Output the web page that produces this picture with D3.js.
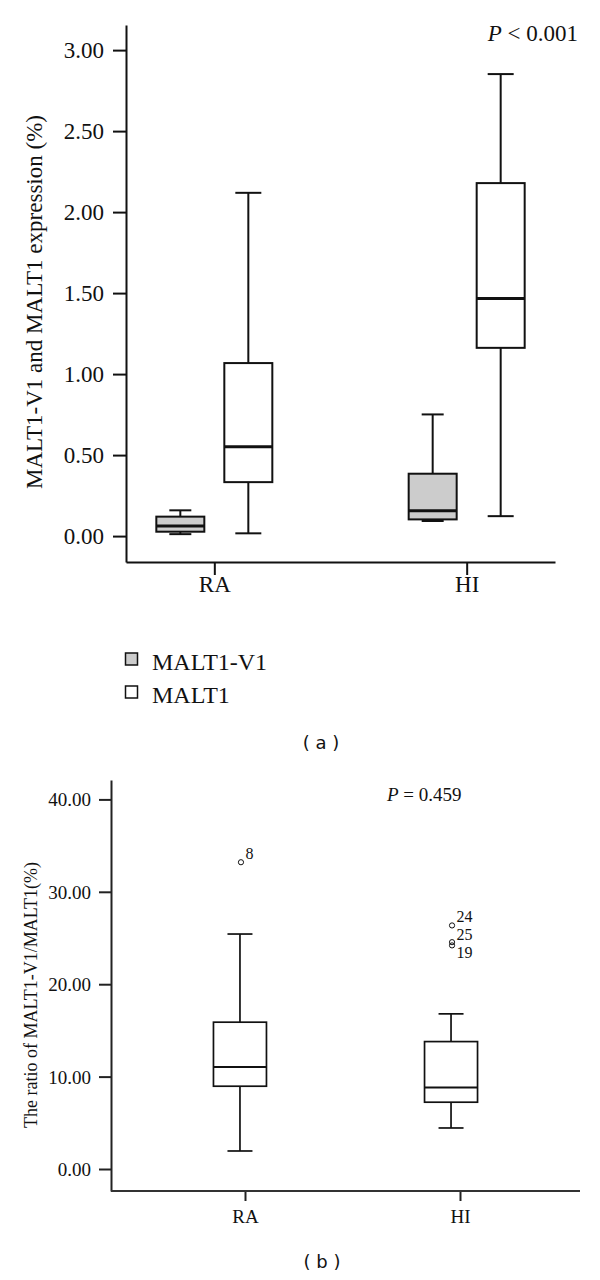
<!DOCTYPE html>
<html>
<head>
<meta charset="utf-8">
<script src="https://cdn.jsdelivr.net/npm/d3@7"></script>
<style>
  html, body { margin: 0; padding: 0; background: #fff; }
  svg { display: block; }
</style>
</head>
<body>
<script>
// ---------- data ----------
const categories = ["RA", "HI"];
const seriesNames = ["MALT1-V1", "MALT1"];
// [lower whisker, Q1, median, Q3, upper whisker]
const malt1v1Stats = [[0.012, 0.027, 0.062, 0.12, 0.159], [0.093, 0.103, 0.156, 0.385, 0.751]];
const malt1Stats   = [[0.017, 0.333, 0.551, 1.068, 2.119], [0.123, 1.162, 1.467, 2.179, 2.852]];
const ticksA = [0, 0.5, 1, 1.5, 2, 2.5, 3];
const ratioStats = [[1.95, 8.96, 11.05, 15.89, 25.43], [4.44, 7.23, 8.81, 13.79, 16.79]];
const ratioOutlierCats   = ["RA", "HI", "HI", "HI"];
const ratioOutlierValues = [33.2, 26.36, 24.55, 24.2];
const ratioOutlierLabels = ["8", "24", "25", "19"];
const ticksB = [0, 10, 20, 30, 40];
const pTextA = "< 0.001";
const pTextB = "= 0.459";

// ---------- svg ----------
const svg = d3.select("body").append("svg").attr("width", 600).attr("height", 1280);
const SERIF = '"Liberation Serif", "DejaVu Serif", serif';
const SANS = '"DejaVu Sans", "Liberation Sans", sans-serif';

// =============== Panel (a) ===============
const yA = d3.scaleLinear().domain([-0.16, 3.155]).range([562, 25]);
const xA = d3.scalePoint().domain(categories).range([126, 555]).padding(0.35);
const offA = { "MALT1-V1": -34, "MALT1": 34 };
const fillA = { "MALT1-V1": "#cccccc", "MALT1": "#ffffff" };
const boxWA = 48;
const capWA = { "MALT1-V1": 22, "MALT1": 26 };

const gA = svg.append("g");
const axA = gA.append("g").attr("transform", "translate(126,0)")
  .call(d3.axisLeft(yA).tickValues(ticksA).tickFormat(d3.format(".2f")).tickSize(13).tickSizeOuter(0).tickPadding(9));
axA.select(".domain").attr("stroke", "#111").attr("stroke-width", 2);
axA.selectAll(".tick line").attr("stroke", "#111").attr("stroke-width", 2);
axA.selectAll(".tick text").attr("font-family", SERIF).attr("font-size", 23).attr("fill", "#111").attr("dy", "0.34em");

const axAx = gA.append("g").attr("transform", "translate(0,562)")
  .call(d3.axisBottom(xA).tickSize(13).tickSizeOuter(0));
axAx.select(".domain").attr("stroke", "#111").attr("stroke-width", 2);
axAx.selectAll(".tick line").attr("stroke", "#111").attr("stroke-width", 2);
axAx.selectAll(".tick text").attr("font-family", SERIF).attr("font-size", 23).attr("fill", "#111").attr("y", 30).attr("dy", 0);

const boxesA = [];
categories.forEach((c, i) => {
  boxesA.push({ cat: c, series: "MALT1-V1", s: malt1v1Stats[i] });
  boxesA.push({ cat: c, series: "MALT1", s: malt1Stats[i] });
});
function drawBox(g, cx, s, yS, boxW, capW, fill, sw, medW) {
  const b = g.append("g").attr("stroke", "#111").attr("fill", "none");
  b.append("line").attr("x1", cx).attr("x2", cx).attr("y1", yS(s[4])).attr("y2", yS(s[3])).attr("stroke-width", sw);
  b.append("line").attr("x1", cx).attr("x2", cx).attr("y1", yS(s[1])).attr("y2", yS(s[0])).attr("stroke-width", sw);
  b.append("line").attr("x1", cx - capW / 2).attr("x2", cx + capW / 2).attr("y1", yS(s[4])).attr("y2", yS(s[4])).attr("stroke-width", sw);
  b.append("line").attr("x1", cx - capW / 2).attr("x2", cx + capW / 2).attr("y1", yS(s[0])).attr("y2", yS(s[0])).attr("stroke-width", sw);
  b.append("rect").attr("x", cx - boxW / 2).attr("width", boxW)
    .attr("y", yS(s[3])).attr("height", yS(s[1]) - yS(s[3]))
    .attr("fill", fill).attr("stroke-width", sw);
  b.append("line").attr("x1", cx - boxW / 2).attr("x2", cx + boxW / 2).attr("y1", yS(s[2])).attr("y2", yS(s[2])).attr("stroke-width", medW);
}
boxesA.forEach(d => {
  drawBox(gA, xA(d.cat) + offA[d.series], d.s, yA, boxWA, capWA[d.series], fillA[d.series], 2, 3);
});

gA.append("text").attr("transform", "translate(42,302) rotate(-90)")
  .attr("text-anchor", "middle").attr("font-family", SERIF).attr("font-size", 23).attr("fill", "#111")
  .text("MALT1-V1 and MALT1 expression (%)");
const pA = gA.append("text").attr("x", 578).attr("y", 41).attr("text-anchor", "end")
  .attr("font-family", SERIF).attr("font-size", 23).attr("fill", "#111");
pA.append("tspan").attr("font-style", "italic").text("P");
pA.append("tspan").text(" " + pTextA);

const leg = gA.append("g");
seriesNames.forEach((n, i) => {
  const y0 = 653 + i * 33;
  leg.append("rect").attr("x", 125.5).attr("y", y0).attr("width", 12).attr("height", 12)
    .attr("fill", fillA[n]).attr("stroke", "#111").attr("stroke-width", 1.5);
  leg.append("text").attr("x", 152).attr("y", y0 + 17).attr("font-family", SERIF).attr("font-size", 24).attr("fill", "#111").text(n);
});
svg.append("text").attr("x", 321).attr("y", 749).attr("text-anchor", "middle")
  .attr("font-family", SANS).attr("font-size", 18).attr("fill", "#111")
  .attr("xml:space", "preserve").text("( a )");

// =============== Panel (b) ===============
const yB = d3.scaleLinear().domain([-2.38, 42.1]).range([1191, 780]);
const xB = d3.scalePoint().domain(categories).range([111, 580]).padding(0.611);
const xBt = d3.scalePoint().domain(categories).range([118, 587]).padding(0.5907);
const gB = svg.append("g");

const axB = gB.append("g").attr("transform", "translate(111,0)")
  .call(d3.axisLeft(yB).tickValues(ticksB).tickFormat(d3.format(".2f")).tickSize(12).tickSizeOuter(0).tickPadding(8));
axB.select(".domain").attr("stroke", "#222").attr("stroke-width", 2);
axB.selectAll(".tick line").attr("stroke", "#222").attr("stroke-width", 2);
axB.selectAll(".tick text").attr("font-family", SERIF).attr("font-size", 19).attr("fill", "#111").attr("dy", "0.34em");

const axBx = gB.append("g").attr("transform", "translate(0,1191)")
  .call(d3.axisBottom(xBt).tickSize(10).tickSizeOuter(0));
axBx.select(".domain").remove();
gB.append("line").attr("x1", 111).attr("x2", 580).attr("y1", 1191).attr("y2", 1191).attr("stroke", "#333").attr("stroke-width", 2);
axBx.selectAll(".tick line").attr("stroke", "#222").attr("stroke-width", 2);
axBx.selectAll(".tick text").attr("font-family", SERIF).attr("font-size", 19).attr("fill", "#111").attr("y", 31.5).attr("dy", 0);

categories.forEach((c, i) => {
  drawBox(gB, xB(c), ratioStats[i], yB, 53, 25, "#fff", 1.7, 2);
});

// outliers: circles, and stacked labels with collision avoidance
const outl = ratioOutlierValues.map((v, i) => ({ cat: ratioOutlierCats[i], v, label: ratioOutlierLabels[i] }));
outl.forEach(d => {
  gB.append("circle").attr("cx", xB(d.cat) + 1).attr("cy", yB(d.v)).attr("r", 2.6)
    .attr("fill", "none").attr("stroke", "#111").attr("stroke-width", 1);
});
const labelSize = 16, labelGap = 17.8;
categories.forEach(c => {
  const list = outl.filter(d => d.cat === c).sort((a, b) => b.v - a.v);
  let prev = null;
  list.forEach(d => {
    let base = yB(d.v) - 3;
    if (prev !== null && base < prev + labelGap) base = prev + labelGap;
    prev = base;
    gB.append("text").attr("x", xB(c) + 5.5).attr("y", base)
      .attr("font-family", SERIF).attr("font-size", labelSize).attr("fill", "#111").text(d.label);
  });
});

gB.append("text").attr("transform", "translate(37,995) rotate(-90)")
  .attr("text-anchor", "middle").attr("font-family", SERIF).attr("font-size", 18).attr("fill", "#111")
  .text("The ratio of MALT1-V1/MALT1(%)");

const pB = gB.append("text").attr("x", 387).attr("y", 801)
  .attr("font-family", SERIF).attr("font-size", 19).attr("fill", "#111");
pB.append("tspan").attr("font-style", "italic").text("P");
pB.append("tspan").text(" " + pTextB);

svg.append("text").attr("x", 322).attr("y", 1268).attr("text-anchor", "middle")
  .attr("font-family", SANS).attr("font-size", 18).attr("fill", "#111")
  .attr("xml:space", "preserve").text("( b )");
</script>
</body>
</html>
